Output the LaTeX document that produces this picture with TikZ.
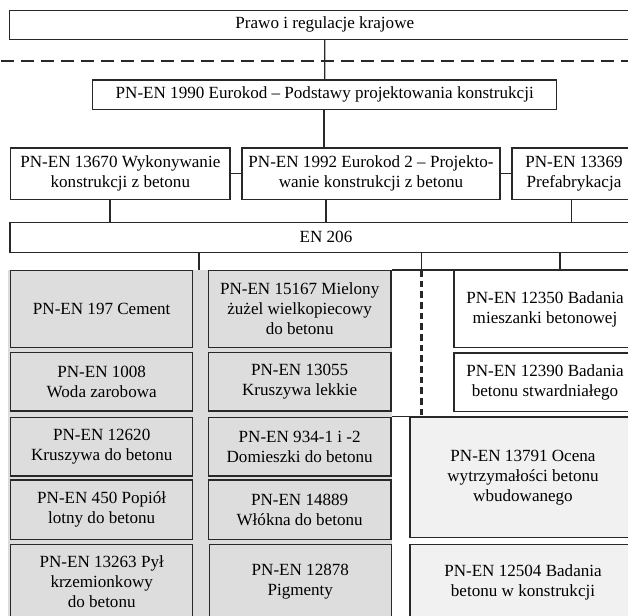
\documentclass[tikz,border=0pt]{standalone}
\usepackage{fontspec}
\setmainfont{Liberation Serif}
\definecolor{boxgray}{RGB}{221,221,221}
\definecolor{panelgray}{RGB}{220,220,220}
\definecolor{lightfill}{RGB}{241,241,242}
\definecolor{edge}{RGB}{40,40,40}
\tikzset{
  bx/.style={draw=edge, line width=0.95pt, fill=white, align=center, inner sep=0pt,
    font=\fontsize{12.8}{15}\selectfont},
  graybx/.style={bx, fill=boxgray},
  lightbx/.style={bx, fill=lightfill},
  panelst/.style={fill=panelgray, inner sep=0pt, outer sep=0pt},
  wpanelst/.style={fill=white, inner sep=0pt, outer sep=0pt},
  txt/.style={align=center, inner sep=0pt, font=\fontsize{12.8}{15}\selectfont},
  conn/.style={draw=edge, line width=0.9pt},
  hdash/.style={draw=edge, line width=2pt, dash pattern=on 9.75pt off 5.25pt},
  vdash/.style={draw=edge, line width=1.8pt, dash pattern=on 5pt off 3pt},
}
% name, style, x1, y1, x2, y2, text  (pixel coordinates, y downwards)
\newcommand{\nbx}[7]{\node[#2, minimum width={(#5-#3)*0.75pt}, minimum height={(#6-#4)*0.75pt}] (#1) at ({(#3+#5)/2},{(#4+#6)/2}) {#7};}
\begin{document}
\begin{tikzpicture}[x=0.75pt, y=-0.75pt]
\useasboundingbox (0,0) rectangle (628,615);
\clip (0,0) rectangle (628,615);
\fill[white] (0,0) rectangle (628,615);

% named x positions
\coordinate (xd) at (421.5,0);
\coordinate (xa) at (110,0);
\coordinate (xb) at (324,0);
\coordinate (xbb) at (326,0);
\coordinate (xc) at (571.7,0);
\coordinate (xp) at (199,0);
\coordinate (xr) at (560,0);
\coordinate (dl) at (1,61);
\coordinate (dr) at (645,61);

% top part
\nbx{top}{bx}{9.6}{10.5}{640}{39.3}{Prawo i regulacje krajowe}
\nbx{f1990}{bx}{92.8}{80}{556.7}{109.3}{PN-EN 1990 Eurokod -- Podstawy projektowania konstrukcji}
\draw[conn] (top.south) -- (f1990.north);
\draw[hdash] (dl) -- (dr);

\nbx{A}{bx}{10.7}{148}{230}{199.3}{PN-EN 13670 Wykonywanie\\konstrukcji z betonu}
\nbx{B}{bx}{242}{148}{500}{199.3}{PN-EN 1992 Eurokod 2 -- Projekto-\\wanie konstrukcji z betonu}
\nbx{C}{bx}{512}{148}{636}{199.3}{PN-EN 13369\\Prefabrykacja}
\draw[conn] (f1990.south -| xb) -- (B.north -| xb);
\draw[conn] (A.east) -- (B.west);
\draw[conn] (B.east) -- (C.west);

\nbx{en}{bx}{10}{222.5}{642}{252.3}{EN 206}
\draw[conn] (A.south -| xa) -- (en.north -| xa);
\draw[conn] (B.south -| xbb) -- (en.north -| xbb);
\draw[conn] (C.south -| xc) -- (en.north -| xc);

% lower panels
\nbx{panel}{panelst}{7.5}{270}{392}{625}{}
\nbx{wpanel}{wpanelst}{392}{270}{645}{416.5}{}
\draw[conn] (wpanel.north west) -- (wpanel.north east);
\draw[conn] (wpanel.south west) -- (wpanel.south east);
\draw[vdash] (wpanel.north -| xd) -- (wpanel.south -| xd);
\draw[conn] (en.south -| xp) -- (panel.north -| xp);
\draw[conn] (en.south -| xd) -- (wpanel.north -| xd);

% column 1
\nbx{c1a}{graybx}{10.7}{270.7}{192.7}{347.5}{PN-EN 197 Cement}
\nbx{c1b}{graybx}{10.7}{352.7}{192.7}{411}{PN-EN 1008\\Woda zarobowa}
\nbx{c1c}{graybx}{10.7}{417.7}{192.7}{476}{PN-EN 12620\\Kruszywa do betonu}
\nbx{c1d}{graybx}{10.7}{480}{192.7}{539.3}{PN-EN 450 Popiół\\lotny do betonu}
\nbx{c1e}{graybx}{10.7}{544.3}{192.7}{619}{PN-EN 13263 Pył\\krzemionkowy\\do betonu}
% column 2
\nbx{c2a}{graybx}{208.3}{270.7}{391}{347.5}{PN-EN 15167 Mielony\\żużel wielkopiecowy\\do betonu}
\nbx{c2b}{graybx}{208.3}{352.7}{391}{411}{PN-EN 13055\\Kruszywa lekkie}
\nbx{c2c}{graybx}{208.3}{417.7}{391}{476}{PN-EN 934-1 i -2\\Domieszki do betonu}
\nbx{c2d}{graybx}{208.3}{480}{391}{539.3}{PN-EN 14889\\Włókna do betonu}
\nbx{c2e}{graybx}{209.3}{544.3}{391.3}{619}{PN-EN 12878\\Pigmenty}

% right column
\nbx{r1}{bx}{454}{270.7}{636}{347.5}{PN-EN 12350 Badania\\mieszanki betonowej}
\nbx{r2}{bx}{454}{353}{636}{411.5}{PN-EN 12390 Badania\\betonu stwardniałego}
\draw[conn] (en.south -| xr) -- (r1.north -| xr);
\nbx{r3}{lightbx}{410}{417.7}{636}{537.7}{PN-EN 13791 Ocena\\wytrzymałości betonu\\wbudowanego}
\nbx{r4}{lightbx}{410}{544.5}{636}{621}{PN-EN 12504 Badania\\betonu w konstrukcji}
\end{tikzpicture}
\end{document}
